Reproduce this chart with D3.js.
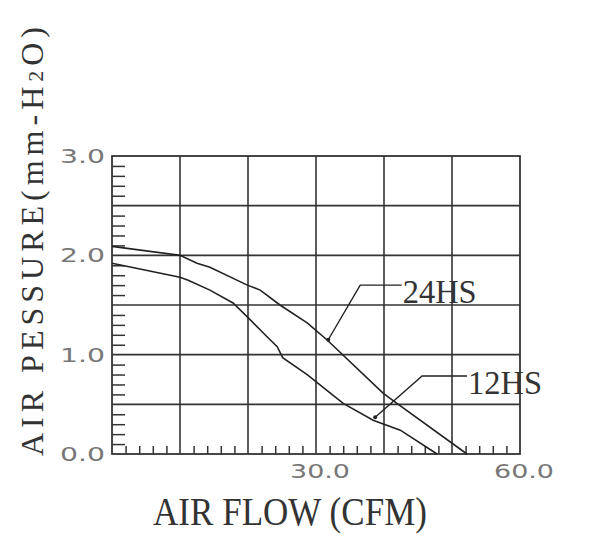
<!DOCTYPE html>
<html>
<head>
<meta charset="utf-8">
<script src="https://cdn.jsdelivr.net/npm/d3@7"></script>
<style>
  body { margin: 0; background: #fff; }
</style>
</head>
<body>
<svg width="600" height="554"></svg>
<script>
// curvas P-Q
const flow24 = [0, 10, 12.5, 14.4, 19.9, 21.8, 24.7, 28.7, 31.6, 39.9, 41.9, 52.2];
const pres24 = [2.09, 2.00, 1.92, 1.88, 1.70, 1.65, 1.50, 1.32, 1.15, 0.61, 0.51, 0];

const flow12 = [0, 10, 11.2, 14.4, 17.8, 19.9, 22.8, 24.3, 25.1, 28.7, 31.6, 34.0, 38.4, 42.4, 47.8];
const pres12 = [1.92, 1.78, 1.75, 1.65, 1.52, 1.38, 1.18, 1.08, 0.97, 0.80, 0.64, 0.51, 0.34, 0.24, 0];

const yTickLabels = ["0.0", "1.0", "2.0", "3.0"];
const xTickLabels = ["30.0", "60.0"];

// chamadas: ponto na curva, cotovelo, fim da linha
const calloutNames = ["24HS", "12HS"];
const calloutPoint = [[31.8, 1.15], [38.7, 0.37]];
const calloutElbow = [[36.5, 1.70], [45.6, 0.785]];
const calloutEnd = [[42.6, 1.70], [52.2, 0.785]];

const svg = d3.select("svg");
const ink = "#333";

const x = d3.scaleLinear().domain([0, 60]).range([112, 520]);
const y = d3.scaleLinear().domain([0, 3]).range([454, 156]);

// grade
svg.append("g")
  .selectAll("line")
  .data(d3.range(10, 60, 10))
  .join("line")
    .attr("x1", d => x(d)).attr("x2", d => x(d))
    .attr("y1", y(0)).attr("y2", y(3))
    .attr("stroke", ink).attr("stroke-width", 1.6);

svg.append("g")
  .selectAll("line")
  .data(d3.range(0.5, 3, 0.5))
  .join("line")
    .attr("x1", x(0)).attr("x2", x(60))
    .attr("y1", d => y(d)).attr("y2", d => y(d))
    .attr("stroke", ink).attr("stroke-width", 1.6);

// tics menores
const minorY = d3.range(1, 30).filter(i => i % 5).map(i => i / 10);
const minorX = d3.range(2, 60, 2).filter(v => v % 10);

svg.append("g")
    .attr("transform", "translate(" + x(0) + ",0)")
    .call(d3.axisLeft(y).tickValues(minorY).tickSize(-13).tickFormat(""))
    .call(g => g.select(".domain").remove())
    .call(g => g.selectAll("line").attr("stroke", ink).attr("stroke-width", 1.5));

svg.append("g")
    .attr("transform", "translate(0," + y(0) + ")")
    .call(d3.axisBottom(x).tickValues(minorX).tickSize(-8).tickFormat(""))
    .call(g => g.select(".domain").remove())
    .call(g => g.selectAll("line").attr("stroke", ink).attr("stroke-width", 1.5));

// moldura
svg.append("rect")
    .attr("x", x(0)).attr("y", y(3))
    .attr("width", x(60) - x(0)).attr("height", y(0) - y(3))
    .attr("fill", "none").attr("stroke", ink).attr("stroke-width", 1.8);

// rótulos dos eixos
svg.append("g")
  .selectAll("text")
  .data(yTickLabels)
  .join("text")
    .attr("x", 60)
    .attr("y", d => y(+d) + 7)
    .attr("textLength", 45)
    .attr("lengthAdjust", "spacingAndGlyphs")
    .attr("font-family", "DejaVu Sans")
    .attr("font-size", 19)
    .attr("fill", "#777")
    .text(d => d);

svg.append("g")
  .selectAll("text")
  .data(xTickLabels)
  .join("text")
    .attr("x", d => x(+d) - 26)
    .attr("y", 478)
    .attr("textLength", 60)
    .attr("lengthAdjust", "spacingAndGlyphs")
    .attr("font-family", "DejaVu Sans")
    .attr("font-size", 20)
    .attr("fill", "#777")
    .text(d => d);

// curvas
const line = d3.line().x(d => x(d[0])).y(d => y(d[1]));
const series = [d3.zip(flow24, pres24), d3.zip(flow12, pres12)];

svg.append("g")
  .selectAll("path")
  .data(series)
  .join("path")
    .attr("d", line)
    .attr("fill", "none")
    .attr("stroke", "#222")
    .attr("stroke-width", 1.6);

// chamadas
calloutNames.forEach((name, i) => {
  svg.append("path")
      .attr("d", line([calloutPoint[i], calloutElbow[i], calloutEnd[i]]))
      .attr("fill", "none").attr("stroke", "#222").attr("stroke-width", 1.4);
  svg.append("circle")
      .attr("cx", x(calloutPoint[i][0])).attr("cy", y(calloutPoint[i][1]))
      .attr("r", 2).attr("fill", "#222");
  svg.append("text")
      .attr("x", x(calloutEnd[i][0]) + 1)
      .attr("y", y(calloutEnd[i][1]) + 18)
      .attr("textLength", 74)
      .attr("lengthAdjust", "spacingAndGlyphs")
      .attr("font-family", "Liberation Serif")
      .attr("font-size", 34)
      .attr("fill", ink)
      .text(name);
});

// títulos
svg.append("text")
    .attr("x", 153)
    .attr("y", 525)
    .attr("textLength", 274)
    .attr("lengthAdjust", "spacingAndGlyphs")
    .attr("font-family", "Liberation Serif")
    .attr("font-size", 40)
    .attr("fill", ink)
    .text("AIR FLOW (CFM)");

const yt = svg.append("text")
    .attr("transform", "translate(43,239) rotate(-90)")
    .attr("text-anchor", "middle")
    .attr("font-family", "Liberation Serif")
    .attr("font-size", 32)
    .attr("letter-spacing", 5)
    .attr("fill", ink);
yt.append("tspan").text("AIR PESSURE(mm-H");
yt.append("tspan").attr("font-size", 22).text("2");
yt.append("tspan").text("O)");
</script>
</body>
</html>
